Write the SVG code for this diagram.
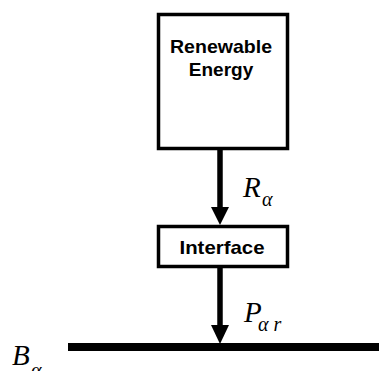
<svg xmlns="http://www.w3.org/2000/svg" width="379" height="371" viewBox="0 0 379 371">
<style>
.box{fill:#fff;stroke:#000;stroke-width:3.5}
.lbl{font-family:"Liberation Sans",Arial,sans-serif;font-weight:bold;font-size:19px;fill:#000;text-anchor:middle}
.math{font-family:"Liberation Serif","Times New Roman",serif;font-style:italic;fill:#000;font-size:29px}
.sub{font-family:"Liberation Serif","Times New Roman",serif;font-style:italic;fill:#000;font-size:20px}
.shaft{stroke:#000;stroke-width:5.5}
.head{fill:#000}
</style>
<rect width="379" height="371" fill="#fff"/>
<g id="renewable">
<rect class="box" x="158.5" y="14.5" width="129" height="134"/>
<text class="lbl" x="221" y="53" textLength="102" lengthAdjust="spacingAndGlyphs">Renewable</text>
<text class="lbl" x="221" y="76">Energy</text>
</g>
<g id="interface">
<rect class="box" x="158.5" y="226.5" width="129" height="40"/>
<text class="lbl" x="222" y="254" textLength="85" lengthAdjust="spacingAndGlyphs">Interface</text>
</g>
<g id="bus">
<line x1="68" y1="347" x2="379" y2="347" stroke="#000" stroke-width="8"/>
<text class="math" x="12" y="365">B</text>
<text class="sub" x="31" y="377">α</text>
</g>
<g id="connectors">
<line class="shaft" x1="220" y1="150" x2="220" y2="208"/>
<polygon class="head" points="211,207 229,207 220,225"/>
<text class="math" x="243" y="197">R</text>
<text class="sub" x="262" y="206">α</text>
<line class="shaft" x1="220" y1="268" x2="220" y2="326"/>
<polygon class="head" points="211,325 229,325 220,344"/>
<text class="math" x="244" y="322">P</text>
<text class="sub" x="258" y="331">α r</text>
</g>
</svg>
